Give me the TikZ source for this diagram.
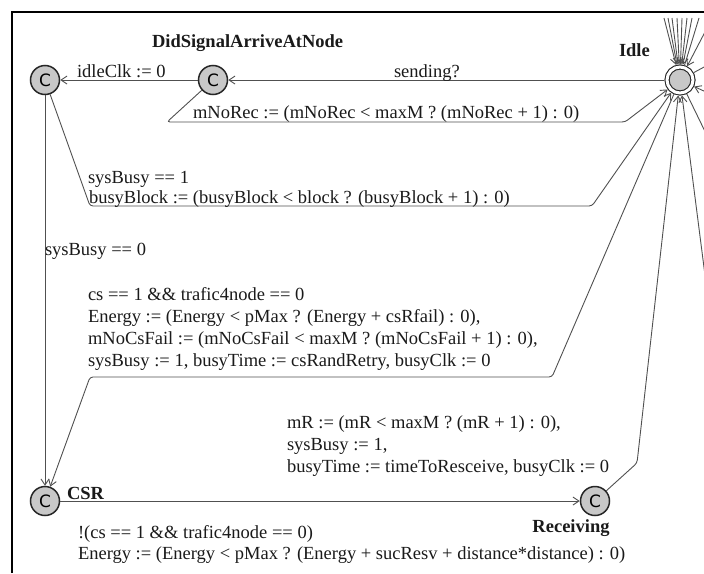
\documentclass[tikz,border=0pt]{standalone}
\usepackage{fontspec}
\setmainfont{Liberation Serif}
\newfontfamily\locfont{DejaVu Sans}
\usetikzlibrary{arrows.meta}
\definecolor{edgegray}{HTML}{505050}
\definecolor{locfill}{HTML}{C8C8C8}
\definecolor{ink}{HTML}{1A1A1A}
\begin{document}
\begin{tikzpicture}[x=1pt,y=-1pt,
  every node/.style={inner sep=0pt, outer sep=0pt},
  txt/.style={font=\fontsize{18.5}{22.5}\selectfont, text=ink, anchor=base west},
  locname/.style={font=\bfseries\fontsize{18.5}{22.5}\selectfont, text=ink, anchor=base west},
  committed/.style={circle, draw=black!85, line width=1.5pt, fill=locfill, minimum size=29pt,
    font=\locfont\fontsize{17}{17}\selectfont, outer sep=0.75pt},
  initial/.style={circle, draw=black!85, fill=locfill, line width=1.1pt, double=white,
    double distance=3pt, minimum size=26pt, outer sep=2.6pt},
  edge/.style={draw=edgegray, line width=0.9pt, rounded corners=3pt},
  tip/.style={-{Straight Barb[length=6pt,width=8pt,line width=0.9pt]}},
]
\useasboundingbox (0,0) rectangle (704,573);

% template frame
\draw[line width=1.2pt] (12,573) -- (12,12) -- (704,12);

% locations
\node[committed] (A) at (45,80) {C};
\node[committed] (D) at (213,80) {C};
\node[initial] (idle) at (680,80) {};
\node[committed] (csr) at (45,501) {C};
\node[committed] (rec) at (595,501) {C};

% location names
\node[locname] (nD) at (152,47) {DidSignalArriveAtNode};
\node[locname] (nI) at (619,56) {Idle};
\node[locname] (nC) at (67,499) {CSR};
\node[locname, anchor=base] (nR) at (571,532) {Receiving};

% nails
\coordinate (n1) at (167,122);
\coordinate (n2) at (625,122);
\coordinate (n3) at (90,206);
\coordinate (n4) at (592,206);
\coordinate (n5) at (552,377);
\coordinate (n6) at (90,377);
\coordinate (n7) at (637,463);

% transitions
\draw[edge,tip] (idle) -- (D);
\draw[edge,tip] (D) -- (A);
\draw[edge,tip] (D) -- (n1) -- (n2) -- (idle);
\draw[edge,tip] (A) -- (n3) -- (n4) -- (idle);
\draw[edge,tip] (A) -- (csr);
\draw[edge,tip] (idle) -- (n5) -- (n6) -- (csr);
\draw[edge,tip] (csr) -- (rec);
\draw[edge,tip] (rec) -- (n7) -- (idle);

% transitions of Idle leading out of view
\foreach \x [count=\i] in {664,668,672,677,682,687,692,699} {
  \coordinate (top\i) at (\x,18);
}
\foreach \i in {1,3,5,7} { \draw[edge,tip] (top\i) -- (idle); }
\foreach \i in {2,4,6,8} { \draw[edge] (top\i) -- (idle); }
\coordinate (r1) at (706,30);
\coordinate (r2) at (706,66);
\coordinate (r3) at (706,92);
\coordinate (r4) at (714,150);
\coordinate (r5) at (712,330);
\draw[edge,tip] (r1) -- (idle);
\draw[edge] (idle) -- (r2);
\draw[edge,tip] (r3) -- (idle);
\draw[edge] (idle) -- (r4);
\draw[edge,tip] (r5) -- (idle);

% guards and updates
\node[txt] (l1) at (77,77) {idleClk := 0};
\node[txt] (l2) at (394,77) {sending?};
\node[txt] (l3) at (193,118) {mNoRec := (mNoRec < maxM ? (mNoRec + 1) : 0)};
\node[txt] (g1) at (88,183) {sysBusy == 1};
\node[txt] (u1) at (89,203) {busyBlock := (busyBlock < block ? (busyBlock + 1) : 0)};
\node[txt] (g2) at (45,255) {sysBusy == 0};
\node[txt] (g3) at (88,300) {cs == 1 \&\& trafic4node == 0};
\node[txt] (u2) at (88,322) {Energy := (Energy < pMax ? (Energy + csRfail) : 0),};
\node[txt] (u3) at (88,344) {mNoCsFail := (mNoCsFail < maxM ? (mNoCsFail + 1) : 0),};
\node[txt] (u4) at (88,366) {sysBusy := 1, busyTime := csRandRetry, busyClk := 0};
\node[txt] (u5) at (287,428) {mR := (mR < maxM ? (mR + 1) : 0),};
\node[txt] (u6) at (287,450) {sysBusy := 1,};
\node[txt] (u7) at (287,472) {busyTime := timeToResceive, busyClk := 0};
\node[txt] (g4) at (78,538) {!(cs == 1 \&\& trafic4node == 0)};
\node[txt] (u8) at (78,559) {Energy := (Energy < pMax ? (Energy + sucResv + distance*distance) : 0)};
\end{tikzpicture}
\end{document}
